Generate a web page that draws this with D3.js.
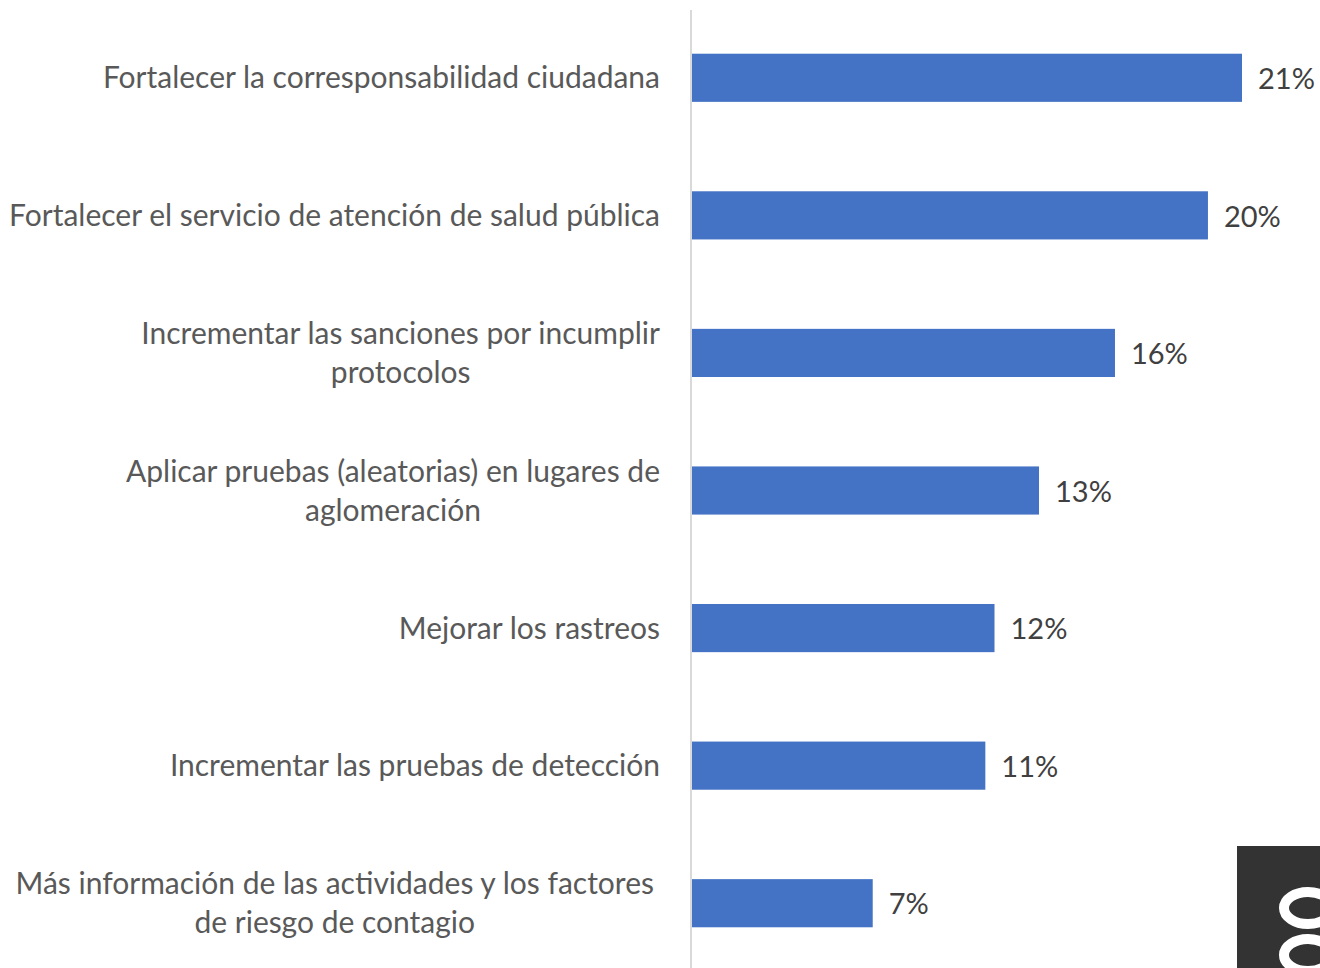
<!DOCTYPE html>
<html><head><meta charset="utf-8">
<script src="https://cdn.jsdelivr.net/npm/d3@7"></script>
<style>html,body{margin:0;padding:0;background:#fff;}svg{display:block;}</style>
</head><body>
<svg id="c" width="1320" height="968"></svg>
<script>
const categories = [
  ["Fortalecer la corresponsabilidad ciudadana"],
  ["Fortalecer el servicio de atención de salud pública"],
  ["Incrementar las sanciones por incumplir", "protocolos"],
  ["Aplicar pruebas (aleatorias) en lugares de", "aglomeración"],
  ["Mejorar los rastreos"],
  ["Incrementar las pruebas de detección"],
  ["Más información de las actividades y los factores", "de riesgo de contagio"]
];
const values = [21.0, 19.7, 16.15, 13.25, 11.55, 11.2, 6.9];
const valueLabels = ["21%", "20%", "16%", "13%", "12%", "11%", "7%"];

const svg = d3.select("#c");
const font = "Lato, 'Open Sans', sans-serif";
const x = d3.scaleLinear().domain([0, 21]).range([692, 1242]);
const y = d3.scaleBand().domain(d3.range(values.length)).range([9, 972]).paddingInner(0.65).paddingOuter(0.325);

// axis line
svg.append("line").attr("x1", 691).attr("x2", 691).attr("y1", 10).attr("y2", 968)
  .attr("stroke", "#d9d9d9").attr("stroke-width", 2);

svg.selectAll("rect.bar").data(values).join("rect").attr("class", "bar")
  .attr("x", x(0)).attr("y", (d, i) => y(i)).attr("width", d => x(d) - x(0))
  .attr("height", y.bandwidth()).attr("fill", "#4472C4");

svg.selectAll("text.val").data(values).join("text").attr("class", "val")
  .attr("x", d => x(d) + 16).attr("y", (d, i) => y(i) + y.bandwidth() / 2 + 1)
  .attr("dy", "0.35em").attr("font-family", font).attr("font-size", 29)
  .attr("fill", "#404040").text((d, i) => valueLabels[i]);

const rightEdge = [660, 660, 660, 660, 660, 660, 654];
categories.forEach((lines, i) => {
  const cy = y(i) + y.bandwidth() / 2;
  const lh = 39;
  const g = svg.append("g");
  const ts = lines.map((l, j) => g.append("text")
    .attr("y", cy + (j - (lines.length - 1) / 2) * lh)
    .attr("dy", "0.35em").attr("font-family", font).attr("font-size", 30)
    .attr("fill", "#595959").attr("text-anchor", "middle").text(l));
  const w = d3.max(ts, t => t.node().getComputedTextLength());
  ts.forEach(t => t.attr("x", rightEdge[i] - w / 2));
});

// logo corner
svg.append("rect").attr("x", 1237).attr("y", 846).attr("width", 83).attr("height", 122).attr("fill", "#333333");
[908, 955].forEach(cy => svg.append("ellipse").attr("cx", 1308).attr("cy", cy)
  .attr("rx", 24).attr("ry", 16).attr("fill", "none").attr("stroke", "#ffffff").attr("stroke-width", 10));
</script>
</body></html>
